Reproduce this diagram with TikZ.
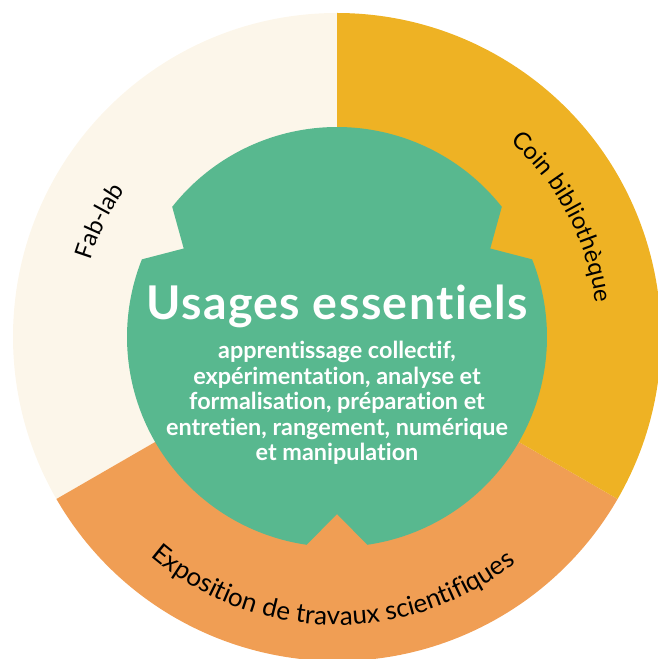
\documentclass[tikz,border=0pt]{standalone}
\usepackage{fontspec}
\setmainfont{Lato}[Ligatures={NoCommon,NoRequired,NoContextual}]
\usetikzlibrary{decorations.text}
\definecolor{cream}{RGB}{252,246,234}
\definecolor{gold}{RGB}{238,178,36}
\definecolor{peach}{RGB}{240,158,84}
\definecolor{mint}{RGB}{88,184,143}
\newcommand\ringfont{\fontsize{24}{28}\selectfont}
\newcommand\bigringfont{\fontsize{26}{30}\selectfont}
\begin{document}
\begin{tikzpicture}[x=1pt,y=1pt,
  ringlabel/.style={decorate, decoration={text along path, text align=center, text color=black, text={#1}}},
  titletext/.style={font=\bfseries\fontsize{46.5}{50}\selectfont\addfontfeature{LetterSpace=3}, text=white, anchor=base, inner sep=0pt},
  bodytext/.style={font=\bfseries\fontsize{23.4}{25.5}\selectfont, text=white, anchor=base, inner sep=0pt}]
\useasboundingbox (0,0) rectangle (657,659);
\begin{scope}[shift={(337,322)}]
  % ring sectors
  \fill[cream] (0,0) -- (90:324) arc[start angle=90,end angle=210,radius=324] -- cycle;
  \fill[peach] (0,0) -- (210:324) arc[start angle=210,end angle=330,radius=324] -- cycle;
  \fill[gold] (0,0) -- (-30:324) arc[start angle=-30,end angle=90,radius=324] -- cycle;
  % central notched disc
  \fill[mint] (38.3:210) arc[start angle=38.3,end angle=141.7,radius=210]
    -- (150:177) -- (158.3:210) arc[start angle=158.3,end angle=261.7,radius=210]
    -- (270:177) -- (278.3:210) arc[start angle=278.3,end angle=381.7,radius=210]
    -- (30:177) -- cycle;
  % ring labels
  \path[ringlabel={|\ringfont|Fab-lab}] (176:258) arc[start angle=176,end angle=132,radius=258];
  \path[ringlabel={|\ringfont|Coin bibliothèque}] (58:261) arc[start angle=58,end angle=-2,radius=261];
  \path[ringlabel={|\bigringfont|Exposition de travaux scientifiques}] (210:288) arc[start angle=210,end angle=328,radius=288];
  % centre text
  \node[titletext] (title) at (0,17) {Usages essentiels};
  \node[bodytext] (l1) at (0,-22) {apprentissage collectif,};
  \node[bodytext] (l2) at (0,-47.5) {expérimentation, analyse et};
  \node[bodytext] (l3) at (0,-73) {formalisation, préparation et};
  \node[bodytext] (l4) at (0,-98.5) {entretien, rangement, numérique};
  \node[bodytext] (l5) at (0,-124) {et manipulation};
\end{scope}
\end{tikzpicture}
\end{document}
